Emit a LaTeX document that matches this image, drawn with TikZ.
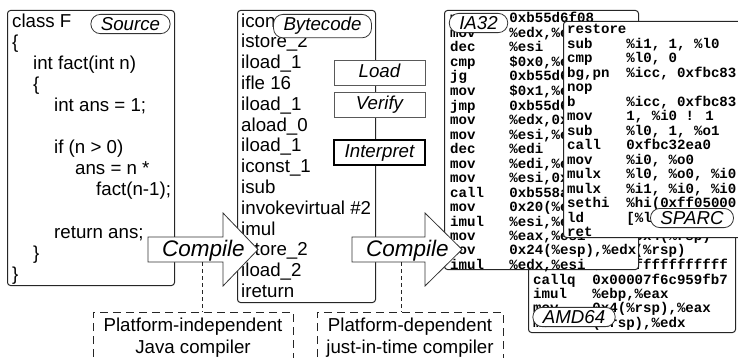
\documentclass[tikz,border=0pt]{standalone}
\usepackage{fontspec}
\setmainfont{Liberation Sans}
\newfontfamily\codefont{Liberation Mono}[UprightFont={* Bold}]
\newcommand{\asmln}[2]{\makebox[4.2em][l]{#1}#2}
\begin{document}
\begin{tikzpicture}[x=1pt,y=-1pt]
\tikzset{
  codebox/.style={draw=black!85, line width=1pt, fill=white, rounded corners=3pt, inner sep=0pt, anchor=north west},
  tagnode/.style={draw=black!80, line width=0.8pt, fill=white, rounded corners=9.5pt, inner xsep=10pt, inner ysep=3pt, font=\fontsize{18.7}{21}\selectfont\itshape},
  stagebox/.style={draw=black!65, line width=0.8pt, fill=white, minimum width=91pt, minimum height=25pt, inner sep=0pt, text height=13.5pt, text depth=3.5pt, font=\fontsize{18.7}{21}\selectfont\itshape},
  listing/.style={inner sep=0pt, anchor=north west},
  asm/.style={font=\codefont\fontsize{14.1}{14.2}\selectfont},
  arrowbody/.style={draw=black!80, line width=0.8pt, fill=white, line join=miter},
  arrowtext/.style={inner sep=0pt, anchor=base, font=\fontsize{22.5}{24}\selectfont\itshape},
  groupbox/.style={draw=black!85, line width=1pt, dash pattern=on 8pt off 5pt},
  grouptext/.style={inner sep=0pt, anchor=north, font=\fontsize{18.7}{21.6}\selectfont},
  link/.style={draw=black!85, line width=0.8pt, dash pattern=on 4pt off 3pt},
}
\useasboundingbox (0,0) rectangle (738,358);
\clip (0,0) rectangle (738,358);

% Source
\node[codebox, minimum width=167pt, minimum height=275pt] (srcbox) at (7,10) {};
\node[listing, font=\fontsize{18.7}{21.1}\selectfont] (srctext) at (12,12.2) {\begin{tabular}{@{}l@{}}
class F\\
\{\\
\hspace*{21pt}int fact(int n)\\
\hspace*{21pt}\{\\
\hspace*{42pt}int ans = 1;\\
\\
\hspace*{42pt}if (n > 0)\\
\hspace*{63pt}ans = n *\\
\hspace*{84pt}fact(n-1);\\
\\
\hspace*{42pt}return ans;\\
\hspace*{21pt}\}\\
\}
\end{tabular}};
\node[tagnode, anchor=north] (srctag) at (130.5,14) {Source};

% Bytecode
\node[codebox, minimum width=138pt, minimum height=292pt] (bcbox) at (237,10) {};
\node[listing, font=\fontsize{18.7}{20.8}\selectfont] (bctext) at (241,12.4) {\begin{tabular}{@{}l@{}}
iconst\_1\\istore\_2\\iload\_1\\ifle 16\\iload\_1\\aload\_0\\iload\_1\\iconst\_1\\isub\\invokevirtual \#2\\imul\\istore\_2\\iload\_2\\ireturn
\end{tabular}};
\node[tagnode, anchor=north] (bctag) at (322.5,14) {Bytecode};

\node[stagebox] (load) at (379.5,72.5) {Load};
\node[stagebox] (verify) at (379.5,104.5) {Verify};
\node[stagebox, line width=1.8pt, draw=black] (interp) at (379.5,152.5) {Interpret};

% AMD64
\node[codebox, minimum width=207pt, minimum height=302pt] (amdbox) at (528,30) {};
\node[listing, asm, anchor=south west] (amdtext) at (533,331.9) {\begin{tabular}{@{}l@{}}
\asmln{mov}{\%edi,0x4(\%rsp)}\\
\asmln{mov}{\%esi,(\%rsp)}\\
\asmln{mov}{\$0xfffffffffffff}\\
\asmln{callq}{0x00007f6c959fb7}\\
\asmln{imul}{\%ebp,\%eax}\\
\asmln{mov}{0x4(\%rsp),\%eax}\\
\asmln{mov}{(\%rsp),\%edx}
\end{tabular}};
\node[tagnode] (amdtag) at (574,317) {AMD64};

% IA32
\node[codebox, minimum width=194pt, minimum height=259pt] (iabox) at (444,10) {};
\node[listing, asm] (iatext) at (450,12.06) {\begin{tabular}{@{}l@{}}
\asmln{mov}{0xb55d6f08}\\
\asmln{mov}{\%edx,\%eax}\\
\asmln{dec}{\%esi}\\
\asmln{cmp}{\$0x0,\%esi}\\
\asmln{jg}{0xb55d6f30}\\
\asmln{mov}{\$0x1,\%eax}\\
\asmln{jmp}{0xb55d6f50}\\
\asmln{mov}{\%edx,0x4(\%esp)}\\
\asmln{mov}{\%esi,\%edi}\\
\asmln{dec}{\%edi}\\
\asmln{mov}{\%edi,\%esi}\\
\asmln{mov}{\%esi,0x4(\%esp)}\\
\asmln{call}{0xb558a3c0}\\
\asmln{mov}{0x20(\%esp),\%edx}\\
\asmln{imul}{\%esi,\%eax}\\
\asmln{mov}{\%eax,\%esi}\\
\asmln{mov}{0x24(\%esp),\%edx}\\
\asmln{imul}{\%edx,\%esi}
\end{tabular}};
\node[tagnode, anchor=north] (iatag) at (478.5,13) {IA32};

% SPARC
\node[codebox, minimum width=240pt, minimum height=216pt] (spbox) at (563,21) {};
\node[listing, asm] (sptext) at (567,23.5) {\begin{tabular}{@{}l@{}}
\asmln{restore}{}\\
\asmln{sub}{\%i1, 1, \%l0}\\
\asmln{cmp}{\%l0, 0}\\
\asmln{bg,pn}{\%icc, 0xfbc83}\\
\asmln{nop}{}\\
\asmln{b}{\%icc, 0xfbc83}\\
\asmln{mov}{1, \%i0 ! 1}\\
\asmln{sub}{\%l0, 1, \%o1}\\
\asmln{call}{0xfbc32ea0}\\
\asmln{mov}{\%i0, \%o0}\\
\asmln{mulx}{\%l0, \%o0, \%i0}\\
\asmln{mulx}{\%i1, \%i0, \%i0}\\
\asmln{sethi}{\%hi(0xff05000}\\
\asmln{ld}{[\%l0+0x2c0]}\\
\asmln{ret}{}
\end{tabular}};
\node[tagnode, anchor=north] (sptag) at (692,208) {SPARC};

% Compile arrows
\draw[arrowbody] (148,237) -- (223,237) -- (223,213) -- (258,249.5) -- (223,286) -- (223,262) -- (148,262) -- cycle;
\node[arrowtext] (comp1) at (203.5,256) {Compile};
\draw[arrowbody] (352,237) -- (425,237) -- (425,213) -- (462,249.5) -- (425,286) -- (425,262) -- (352,262) -- cycle;
\node[arrowtext] (comp2) at (407.5,256) {Compile};
\coordinate (c1foot) at (202,262);
\coordinate (c2foot) at (401,262);

% Compiler groups
\coordinate (g1top) at (193,312);
\coordinate (g2top) at (410,312);
\draw[link] (c1foot) -- (c1foot |- g1top);
\draw[link] (c2foot) -- (c2foot |- g2top);
\draw[groupbox] (93,370) -- (93,312) -- (293,312) -- (293,370);
\draw[groupbox] (317,370) -- (317,312) -- (503,312) -- (503,370);
\node[grouptext] (jcomp) at (193,316.6) {\begin{tabular}{@{}c@{}}Platform-independent\\Java compiler\end{tabular}};
\node[grouptext] (jit) at (410,316.6) {\begin{tabular}{@{}c@{}}Platform-dependent\\just-in-time compiler\end{tabular}};
\end{tikzpicture}
\end{document}
